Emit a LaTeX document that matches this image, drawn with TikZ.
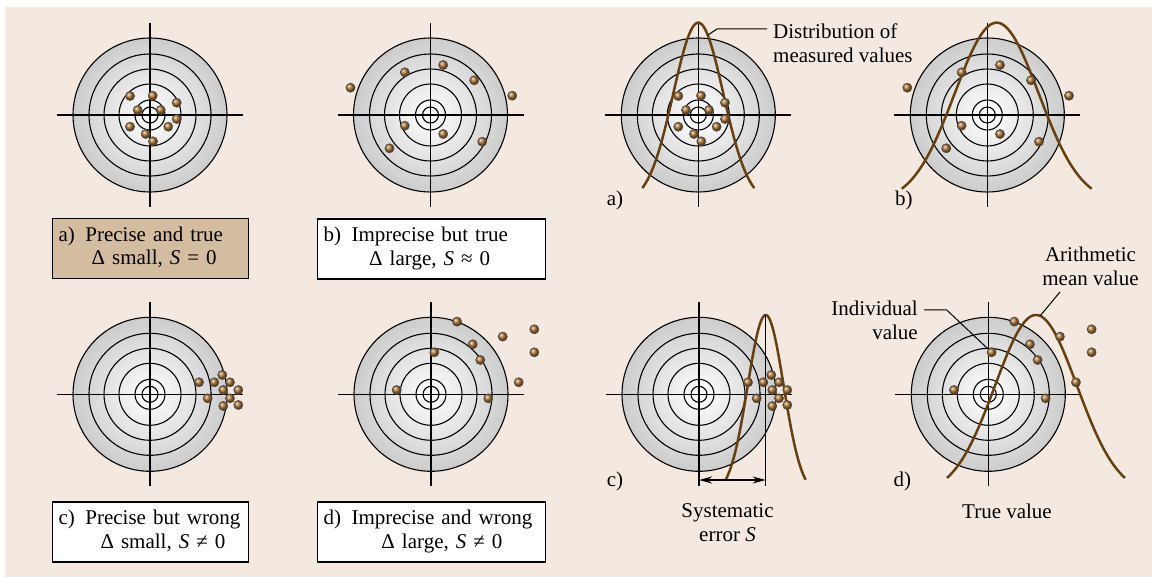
\documentclass[tikz,border=0pt]{standalone}
\usepackage{fontspec}
\setmainfont{Liberation Serif}
\usetikzlibrary{positioning,arrows.meta,calc}
\usepackage{xcolor}

\definecolor{bgbeige}{RGB}{243,233,224}
\definecolor{boxtan}{RGB}{212,188,161}
\definecolor{dotbrown}{RGB}{168,112,48}
\definecolor{curvebrown}{RGB}{104,64,16}

% hit offsets from the target centre (x right, y down)
\def\dotsA{-20/-19, 2.7/-19.3, 26.7/-12.3, -12.3/-5, 10.7/-5, 26.7/4, -20/11.7, 18.3/11.7, -4.3/19, 3/26.3}
\def\dotsB{-80/-27.3, -25.7/-42.7, 12.7/-50, 43.7/-34.7, 81.7/-19.3, -25.7/10.7, 12.7/19, 51.7/26.7, -41/33.3}
\def\dotsC{49/-12, 64.3/-12, 72.3/-19.3, 80/-12, 73.3/-4.3, 88.3/-4.3, 57.7/4, 80/4, 73.3/11.7, 88.3/10.7}
\def\dotsD{26/-72.7, 71.7/-57.7, 103.3/-65, 41.7/-50, 103.3/-42, 3.3/-42, 49.3/-34.3, 87.7/-12, -34.3/-4.3, 57.3/4}

\begin{document}
\begin{tikzpicture}[
    x=1pt, y=-1pt,
    font=\fontsize{21}{24}\selectfont,
    >={Stealth[length=13pt,width=7pt]},
    ring/.style={line width=1.1pt},
    crossline/.style={line width=1.5pt},
    dot/.style={shading=ball, ball color=dotbrown, draw=black!70, line width=0.5pt},
    distcurve/.style={draw=curvebrown, line width=2.5pt},
    box/.style={draw, line width=1.1pt, fill=white, text width=184pt, inner xsep=6pt,
                minimum height=60pt, align=left, font=\fontsize{21}{23.5}\selectfont},
    widebox/.style={box, text width=216pt},
    leader/.style={line width=1pt},
    lbl/.style={inner xsep=6pt, inner ysep=0pt},
    tag/.style={inner sep=0pt, anchor=base west},
    target/.pic={
        \shade[inner color=white, outer color=black!20] (0,0) circle (77);
        \foreach \r in {77,61,46,31,15,8}
            \draw[ring] (0,0) circle (\r);
        \draw[crossline] (-93,0) -- (93,0);
        \draw[crossline] (0,-92) -- (0,92);
    }
]

\useasboundingbox (0,0) rectangle (1152,577);
\fill[white] (0,0) rectangle (1152,577);
\fill[bgbeige] (5,7) rectangle (1152,577);

% --- Target centres ---
\coordinate (la) at (150,115);
\coordinate (lb) at (430.5,115);
\coordinate (lc) at (150,394.3);
\coordinate (ld) at (431,394.3);
\coordinate (ra) at (698.3,115);
\coordinate (rb) at (987.3,115);
\coordinate (rc) at (699,394.3);
\coordinate (rd) at (988.3,394.3);

\foreach \c in {la,lb,lc,ld,ra,rb,rc,rd}
    \pic at (\c) {target};

% --- Distributions ---
\coordinate (pa) at (698.3,22.7);
\coordinate (pb) at (996.7,22.7);
\coordinate (pc) at (765.7,315);
\coordinate (pd) at (1036,315);

\begin{scope}[shift={(pa)}]
    \draw[distcurve] plot[domain=-56:56, samples=80, smooth] (\x, {180*(1-exp(-\x*\x/1250))});
\end{scope}
\begin{scope}[shift={(pb)}]
    \draw[distcurve] plot[domain=-95:95, samples=80, smooth] (\x, {180*(1-exp(-\x*\x/3528))});
\end{scope}
\begin{scope}[shift={(pc)}]
    \draw[distcurve] plot[domain=-40:40, samples=80, smooth] (\x, {180*(1-exp(-\x*\x/648))});
\end{scope}
\begin{scope}[shift={(pd)}]
    \draw[distcurve] plot[domain=-89:89, samples=80, smooth] (\x, {180*(1-exp(-\x*\x/3362))});
\end{scope}

% --- Systematic error ---
\coordinate (cbot) at (765.7,486);
\coordinate (saxis) at (699,480);
\coordinate (send) at (765.7,480);
\draw[ring] (pc) -- (cbot);
\draw[<->, line width=1.5pt] (saxis) -- (send);

% --- Labels ---
\node[lbl, anchor=north west, align=left] (dist) at (767,24) {Distribution of\\measured values};
\coordinate (distknee) at (717,29);
\coordinate (distpt) at (708,35);
\draw[leader] (dist.west |- distknee) -- (distknee) -- (distpt);

\node[lbl, anchor=north east, align=right] (indiv) at (924,300.7) {Individual\\value};
\coordinate (indknee) at (946.7,310);
\coordinate (inddot) at (991.6,352.3);
\draw[leader] (indiv.east |- indknee) -- (indknee) -- (inddot);

\node[lbl, anchor=north, align=center] (mean) at (1090.5,246.7) {Arithmetic\\mean value};
\coordinate (meanfoot) at (1060,292);
\coordinate (meanpt) at (1040,316);
\draw[leader] (meanfoot) -- (meanpt);

\node[lbl, anchor=north, align=center] (syserr) at (727.5,503.7) {Systematic\\error \textit{S}};
\node[lbl, anchor=north, align=center] (truev) at (1007,503.7) {True value};

\node[tag] (tga) at (606.7,206) {a)};
\node[tag] (tgb) at (895,206) {b)};
\node[tag] (tgc) at (606.7,486) {c)};
\node[tag] (tgd) at (893.3,486) {d)};

% --- Hits ---
\begin{scope}[shift={(la)}]
    \foreach \dx/\dy in \dotsA \shadedraw[dot] (\dx,\dy) circle (4.6);
\end{scope}
\begin{scope}[shift={(ra)}]
    \foreach \dx/\dy in \dotsA \shadedraw[dot] (\dx,\dy) circle (4.6);
\end{scope}
\begin{scope}[shift={(lb)}]
    \foreach \dx/\dy in \dotsB \shadedraw[dot] (\dx,\dy) circle (4.6);
\end{scope}
\begin{scope}[shift={(rb)}]
    \foreach \dx/\dy in \dotsB \shadedraw[dot] (\dx,\dy) circle (4.6);
\end{scope}
\begin{scope}[shift={(lc)}]
    \foreach \dx/\dy in \dotsC \shadedraw[dot] (\dx,\dy) circle (4.6);
\end{scope}
\begin{scope}[shift={(rc)}]
    \foreach \dx/\dy in \dotsC \shadedraw[dot] (\dx,\dy) circle (4.6);
\end{scope}
\begin{scope}[shift={(ld)}]
    \foreach \dx/\dy in \dotsD \shadedraw[dot] (\dx,\dy) circle (4.6);
\end{scope}
\begin{scope}[shift={(rd)}]
    \foreach \dx/\dy in \dotsD \shadedraw[dot] (\dx,\dy) circle (4.6);
\end{scope}

% --- Captions ---
\node[box, fill=boxtan, anchor=west] (capa) at (52,248.5)
    {\begin{tabular}{@{}l@{\hspace{10.5pt}}c@{}}a) & Precise and true\\ & Δ small, \textit{S} = 0\end{tabular}};
\node[widebox, anchor=west] (capb) at (317,249)
    {\begin{tabular}{@{}l@{\hspace{10.5pt}}c@{}}b) & Imprecise but true\\ & Δ large, \textit{S} ≈ 0\end{tabular}};
\node[box, anchor=west] (capc) at (52,532)
    {\begin{tabular}{@{}l@{\hspace{10.5pt}}c@{}}c) & Precise but wrong\\ & Δ small, \textit{S} ≠ 0\end{tabular}};
\node[widebox, anchor=west] (capd) at (317,532)
    {\begin{tabular}{@{}l@{\hspace{10.5pt}}c@{}}d) & Imprecise and wrong\\ & Δ large, \textit{S} ≠ 0\end{tabular}};

\end{tikzpicture}
\end{document}
